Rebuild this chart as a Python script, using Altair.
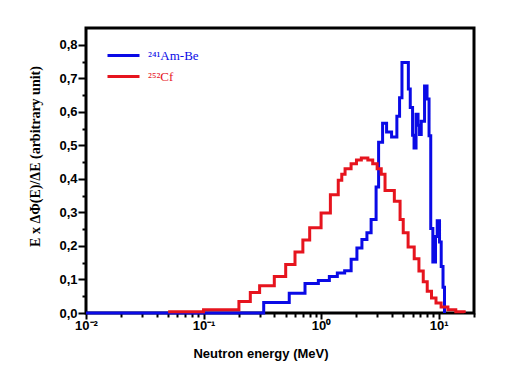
import altair as alt
import pandas as pd

# ---- data (bin edges in MeV, values in arbitrary units) ----
amb_edges = [0.01, 0.325, 0.536, 0.730, 0.948, 1.176, 1.375, 1.587, 1.802, 2.018,
             2.226, 2.455, 2.665, 2.938, 3.086, 3.337, 3.609, 3.979, 4.414, 4.653,
             4.877, 5.528, 5.737, 6.003, 6.18, 6.427, 6.683, 6.882, 7.115, 7.591,
             7.97, 8.29, 8.57, 8.93, 9.41, 9.73, 10.18, 10.52, 10.9, 11.22]
amb_vals = [0.0, 0.031, 0.059, 0.088, 0.097, 0.109, 0.119, 0.126, 0.160, 0.194,
            0.219, 0.239, 0.279, 0.376, 0.509, 0.566, 0.540, 0.525, 0.587, 0.642,
            0.747, 0.668, 0.613, 0.530, 0.492, 0.593, 0.560, 0.532, 0.572, 0.677,
            0.638, 0.529, 0.252, 0.152, 0.228, 0.275, 0.212, 0.139, 0.077]

cf_edges = [0.05, 0.1, 0.2, 0.25, 0.3, 0.4, 0.5, 0.6, 0.7, 0.8,
            1.0, 1.2, 1.4, 1.5, 1.6, 1.8, 2.0, 2.2, 2.5, 2.75,
            3.0, 3.25, 3.5, 4.2, 4.7, 5.0, 5.5, 6.2, 6.8, 7.4,
            8.0, 8.7, 9.5, 10.5, 12.0, 14.0, 16.5]
cf_vals = [0.004, 0.01, 0.034, 0.061, 0.081, 0.109, 0.145, 0.182, 0.218, 0.254,
           0.298, 0.353, 0.396, 0.414, 0.43, 0.445, 0.456, 0.462, 0.456, 0.445,
           0.43, 0.414, 0.365, 0.333, 0.279, 0.239, 0.197, 0.162, 0.125, 0.093,
           0.065, 0.045, 0.03, 0.018, 0.01, 0.004]

series_names = ["\u00b2\u2074\u00b9Am-Be", "\u00b2\u2075\u00b2Cf"]
series_colors = ["#0a0ae6", "#e6141e"]

x_major = [0.01, 0.1, 1, 10]
x_major_labels = ["10\u207b\u00b2", "10\u207b\u00b9", "10\u2070", "10\u00b9"]
x_minor = [0.02, 0.03, 0.04, 0.05, 0.06, 0.07, 0.08, 0.09,
           0.2, 0.3, 0.4, 0.5, 0.6, 0.7, 0.8, 0.9,
           2, 3, 4, 5, 6, 7, 8, 9, 20]
y_major = [0.0, 0.1, 0.2, 0.3, 0.4, 0.5, 0.6, 0.7, 0.8]
y_minor = [0.05, 0.15, 0.25, 0.35, 0.45, 0.55, 0.65, 0.75]

x_title = "Neutron energy (MeV)"
y_title = "E x \u0394\u03a6(E)/\u0394E (arbitrary unit)"


def step_rows(edges, vals, name):
    rows = []
    for i, v in enumerate(vals):
        rows.append({"E": edges[i], "val": v, "series": name, "k": i})
    rows.append({"E": edges[-1], "val": 0.0, "series": name, "k": len(vals)})
    return rows


df = pd.DataFrame(step_rows(amb_edges, amb_vals, series_names[0])
                  + step_rows(cf_edges, cf_vals, series_names[1]))

x_major_test = " || ".join(f"datum.value == {v}" for v in x_major)
x_label_expr = "".join(f"datum.value == {v} ? '{l}' : " for v, l in zip(x_major, x_major_labels)) + "''"
y_major_test = "abs(datum.value*10 - round(datum.value*10)) < 0.001"
y_label_expr = f"({y_major_test}) ? replace(format(datum.value, '.1f'), '.', ',') : ''"

x_axis = alt.Axis(
    values=sorted(x_major + x_minor),
    labelExpr=x_label_expr,
    tickSize={"condition": {"test": x_major_test, "value": 6}, "value": 4},
    tickWidth=2, tickColor="black",
    labelFont="Liberation Sans", labelFontWeight="bold", labelFontSize=13,
    labelColor="black", labelPadding=0, labelFlush=False, labelOverlap=False,
    title=x_title, titleFont="Liberation Sans", titleFontWeight="bold",
    titleFontSize=13, titleColor="black", titleX=174.5, titleY=44.5,
    titleBaseline="alphabetic",
    grid=False, domain=False,
)

y_axis = alt.Axis(
    values=sorted(y_major + y_minor),
    labelExpr=y_label_expr,
    tickSize={"condition": {"test": y_major_test, "value": 8}, "value": 4},
    tickWidth=2, tickColor="black",
    labelFont="Liberation Sans", labelFontWeight="bold", labelFontSize=13,
    labelColor="black", labelPadding=1, labelOverlap=False,
    title=y_title, titleFont="Liberation Serif", titleFontWeight="bold",
    titleFontSize=14, titleColor="black", titleX=-44, titleY=128,
    grid=False, domain=False,
)

legend = alt.Legend(
    title=None, orient="none", legendX=31, legendY=21, padding=0,
    symbolType="M-3.2,0H3.2", symbolSize=100, symbolStrokeWidth=3,
    labelFont="Liberation Serif", labelFontSize=13, labelOffset=18,
    rowPadding=7,
    labelColor=alt.ExprRef(f"datum.label == '{series_names[1]}' ? '{series_colors[1]}' : '{series_colors[0]}'"),
)

chart = alt.Chart(df).mark_line(
    interpolate="step-after", strokeWidth=3, strokeCap="butt", strokeJoin="miter"
).encode(
    x=alt.X("E:Q", scale=alt.Scale(type="log", domain=[0.01, 20], nice=False), axis=x_axis),
    y=alt.Y("val:Q", scale=alt.Scale(domain=[0, 0.85], nice=False, zero=True), axis=y_axis),
    color=alt.Color("series:N", scale=alt.Scale(domain=series_names, range=series_colors), legend=legend),
    order=alt.Order("k:Q"),
).properties(
    width=388, height=285,
    padding={"left": 78, "top": 20, "right": 40, "bottom": 56},
    autosize=alt.AutoSizeParams(type="none"),
    background="white",
).configure_view(stroke="black", strokeWidth=3)

chart.save("out.html", embed_options={"renderer": "svg", "actions": False})
